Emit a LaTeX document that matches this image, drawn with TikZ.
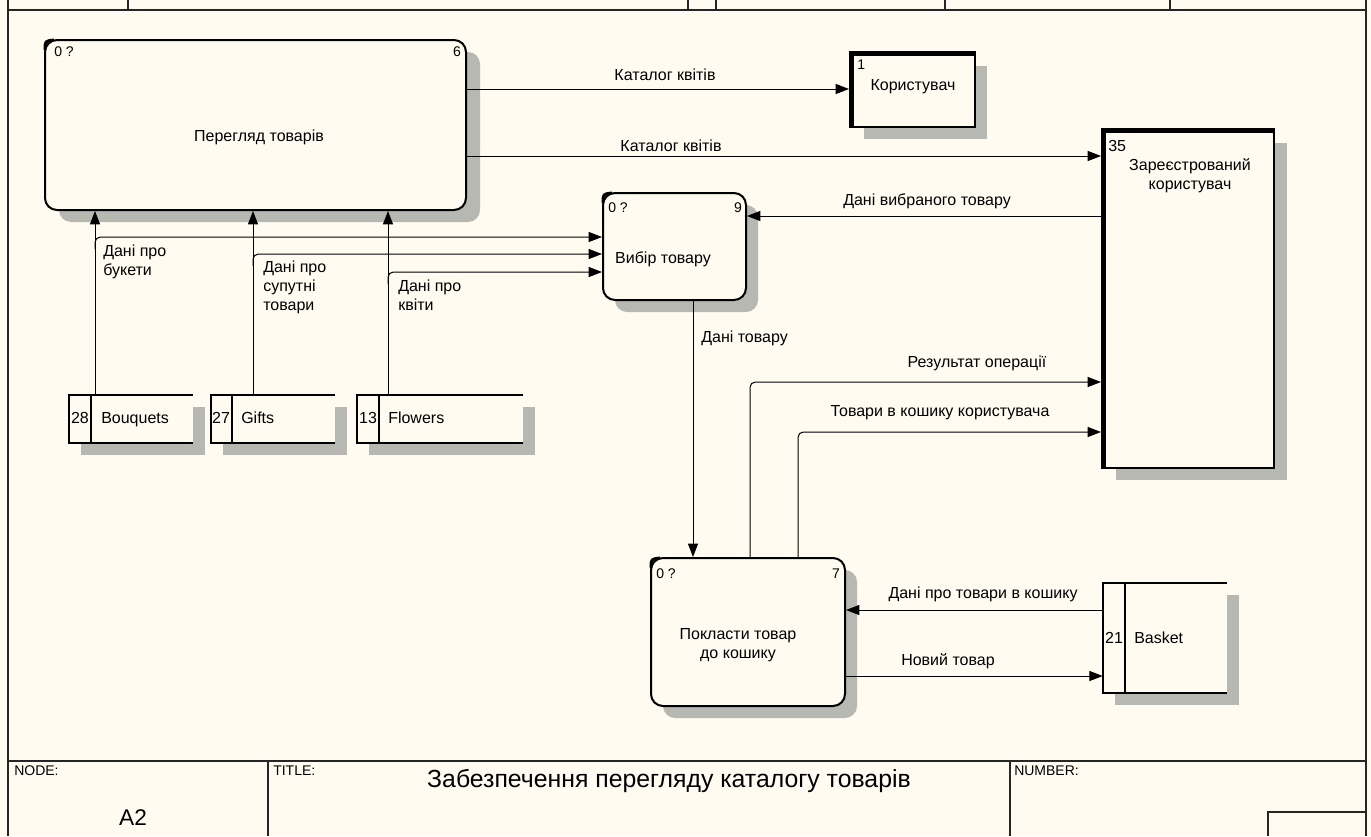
\documentclass[tikz,border=0pt]{standalone}
\usepackage{fontspec}
\setmainfont{Liberation Sans}
\usetikzlibrary{arrows.meta,fit,calc}
\definecolor{paper}{RGB}{255,251,240}
\definecolor{shade}{RGB}{184,184,178}
\begin{document}
\begin{tikzpicture}[x=0.75pt,y=-0.75pt,
  lbl/.style={font=\fontsize{12}{14.25}\selectfont, inner sep=0pt},
  small/.style={font=\fontsize{10.5}{12}\selectfont, inner sep=0pt},
  proc/.style={draw, line width=1.5pt, rounded corners=9pt, fill=paper, inner sep=0pt},
  ent/.style={draw, line width=1.5pt, fill=paper, inner sep=0pt},
  thickedge/.style={line width=3.75pt},
  storebox/.style={fill=paper, inner sep=0pt},
  storeline/.style={line width=1.5pt},
  shadowbox/.style={fill=shade},
  flow/.style={line width=0.75pt, -{Triangle[length=10pt,width=7.5pt]}},
  framelines/.style={line width=1.1pt, draw=black!85}]
\fill[paper] (0,0) rectangle (1371,836);
\useasboundingbox (0,0) rectangle (1371,836);

% frame
\draw[framelines] (8,0) -- (8,836);
\draw[framelines] (1366,0) -- (1366,836);
\draw[framelines] (8,10) -- (1366,10);
\foreach \x in {128,688,716,945,1170} \draw[framelines] (\x,0) -- (\x,10);
\draw[framelines] (8,761) -- (1366,761);
\draw[framelines] (268,761) -- (268,836);
\draw[framelines] (1010,761) -- (1010,836);
\draw[framelines] (1268,836) -- (1268,812) -- (1366,812);
\node[small, anchor=west] (tnode) at (14,771) {NODE:};
\node[font=\fontsize{17}{18}\selectfont, inner sep=0pt] (tnum) at (133,818) {A2};
\node[small, anchor=west] (ttitle) at (273,771) {TITLE:};
\node[font=\fontsize{18.6}{20}\selectfont, inner sep=0pt] (tmain) at (669,781) {Забезпечення перегляду каталогу товарів};
\node[small, anchor=west] (tnumber) at (1014,771) {NUMBER:};

% shadows
\fill[shadowbox, rounded corners=9pt] (59,52) rectangle (480,222);
\fill[shadowbox, rounded corners=9pt] (615,205) rectangle (758,312);
\fill[shadowbox, rounded corners=9pt] (663,570) rectangle (857,718);
\fill[shadowbox] (864,66) rectangle (987,139);
\fill[shadowbox] (1116,143) rectangle (1287,480);
\fill[shadowbox] (81,407) rectangle (205,455);
\fill[shadowbox] (223,407) rectangle (347,455);
\fill[shadowbox] (369,407) rectangle (535,455);
\fill[shadowbox] (1115,595) rectangle (1239,705);

% processes
\node[proc, fit={(45,40)(466,210)}] (p6) {};
\node[proc, fit={(603,193)(746,300)}] (vb) {};
\node[proc, fit={(651,558)(845,706)}] (pk) {};
\foreach \a/\b in {45/40,603/193,651/558}
  \draw[line width=2.2pt] (\a,\b+10) .. controls (\a,\b+1) .. (\a+9,\b);

\node[small, anchor=west] (p6n) at (54,52) {0 ?};
\node[small] (p6i) at (457,52) {6};
\node[lbl] (p6t) at (259,137) {Перегляд товарів};
\node[small, anchor=west] (vbn) at (608,208) {0 ?};
\node[small] (vbi) at (738,208) {9};
\node[lbl] (vbt) at (663,259) {Вибір товару};
\node[small, anchor=west] (pkn) at (656,574) {0 ?};
\node[small] (pki) at (836,574) {7};
\node[lbl, align=center] (pkt) at (738,645) {Покласти товар\\до кошику};

% external entities
\node[ent, fit={(852,54)(975,127)}] (ku) {};
\draw[thickedge] (ku.south west) -- (ku.north west) -- (ku.north east);
\node[small, anchor=west] (kun) at (857,65) {1};
\node[lbl] (kut) at (913,87) {Користувач};
\node[ent, fit={(1104,131)(1274,468)}] (reg) {};
\draw[thickedge] (reg.south west) -- (reg.north west) -- (reg.north east);
\node[lbl, anchor=west] (regn) at (1108,146) {35};
\node[lbl, align=center] (regt) at (1190,176) {Зареєстрований\\користувач};

% data stores
\node[storebox, fit={(69,395)(193,443)}] (bq) {};
\draw[storeline] (bq.north east) -- (bq.north west) -- (bq.south west) -- (bq.south east);
\draw[storeline] (91,395) -- (91,443);
\node[lbl, anchor=base] (bqn) at (80,423) {28};
\node[lbl, anchor=base west] (bqt) at (101,423) {Bouquets};

\node[storebox, fit={(211,395)(335,443)}] (gf) {};
\draw[storeline] (gf.north east) -- (gf.north west) -- (gf.south west) -- (gf.south east);
\draw[storeline] (232,395) -- (232,443);
\node[lbl, anchor=base] (gfn) at (221,423) {27};
\node[lbl, anchor=base west] (gft) at (241,423) {Gifts};

\node[storebox, fit={(357,395)(523,443)}] (fl) {};
\draw[storeline] (fl.north east) -- (fl.north west) -- (fl.south west) -- (fl.south east);
\draw[storeline] (379,395) -- (379,443);
\node[lbl, anchor=base] (fln) at (368,423) {13};
\node[lbl, anchor=base west] (flt) at (388,423) {Flowers};

\node[storebox, fit={(1103,583)(1227,693)}] (bs) {};
\draw[storeline] (bs.north east) -- (bs.north west) -- (bs.south west) -- (bs.south east);
\draw[storeline] (1125,583) -- (1125,693);
\node[lbl, anchor=base] (bsn) at (1114,643) {21};
\node[lbl, anchor=base west] (bst) at (1134,643) {Basket};

% helper coordinates
\coordinate (xb) at (95,0);
\coordinate (xg) at (253,0);
\coordinate (xf) at (388,0);
\coordinate (yb) at (0,237);
\coordinate (yg) at (0,254);
\coordinate (yf) at (0,272);
\coordinate (yc1) at (0,89);
\coordinate (yc2) at (0,156);
\coordinate (ysel) at (0,216);
\coordinate (xd) at (693,0);
\coordinate (xr) at (750,0);
\coordinate (yr) at (0,382);
\coordinate (xt) at (798,0);
\coordinate (yt) at (0,432);
\coordinate (yk) at (0,610);
\coordinate (yn) at (0,676);

% connectors
\draw[flow] (bq.north -| xb) -- (p6.south -| xb);
\draw[flow] (gf.north -| xg) -- (p6.south -| xg);
\draw[flow] (fl.north -| xf) -- (p6.south -| xf);
\draw[flow, rounded corners=4pt] ($(yb -| xb)+(0,12)$) -- (yb -| xb) -- (yb -| vb.west);
\draw[flow, rounded corners=4pt] ($(yg -| xg)+(0,12)$) -- (yg -| xg) -- (yg -| vb.west);
\draw[flow, rounded corners=4pt] ($(yf -| xf)+(0,12)$) -- (yf -| xf) -- (yf -| vb.west);
\draw[flow, shorten >=1.5pt] (yc1 -| p6.east) -- (yc1 -| ku.west);
\draw[flow, shorten >=1.5pt] (yc2 -| p6.east) -- (yc2 -| reg.west);
\draw[flow] (ysel -| reg.west) -- (ysel -| vb.east);
\draw[flow] (vb.south -| xd) -- (pk.north -| xd);
\draw[flow, rounded corners=4pt, shorten >=1.5pt] (pk.north -| xr) -- (yr -| xr) -- (yr -| reg.west);
\draw[flow, rounded corners=4pt, shorten >=1.5pt] (pk.north -| xt) -- (yt -| xt) -- (yt -| reg.west);
\draw[flow] (yk -| bs.west) -- (yk -| pk.east);
\draw[flow] (yn -| pk.east) -- (yn -| bs.west);

% connector labels
\node[lbl] (l1) at (665,75) {Каталог квітів};
\node[lbl] (l2) at (671,146) {Каталог квітів};
\node[lbl] (l3) at (927,201) {Дані вибраного товару};
\node[lbl, anchor=west] (l4) at (701,338) {Дані товару};
\node[lbl] (l5) at (977,363) {Результат операції};
\node[lbl] (l6) at (940,413) {Товари в кошику користувача};
\node[lbl] (l7) at (983,594) {Дані про товари в кошику};
\node[lbl] (l8) at (948,661) {Новий товар};
\node[lbl, align=left, anchor=north west] (l9) at (103,245) {Дані про\\букети};
\node[lbl, align=left, anchor=north west] (l10) at (263,261) {Дані про\\супутні\\товари};
\node[lbl, align=left, anchor=north west] (l11) at (398,280) {Дані про\\квіти};
\end{tikzpicture}
\end{document}
